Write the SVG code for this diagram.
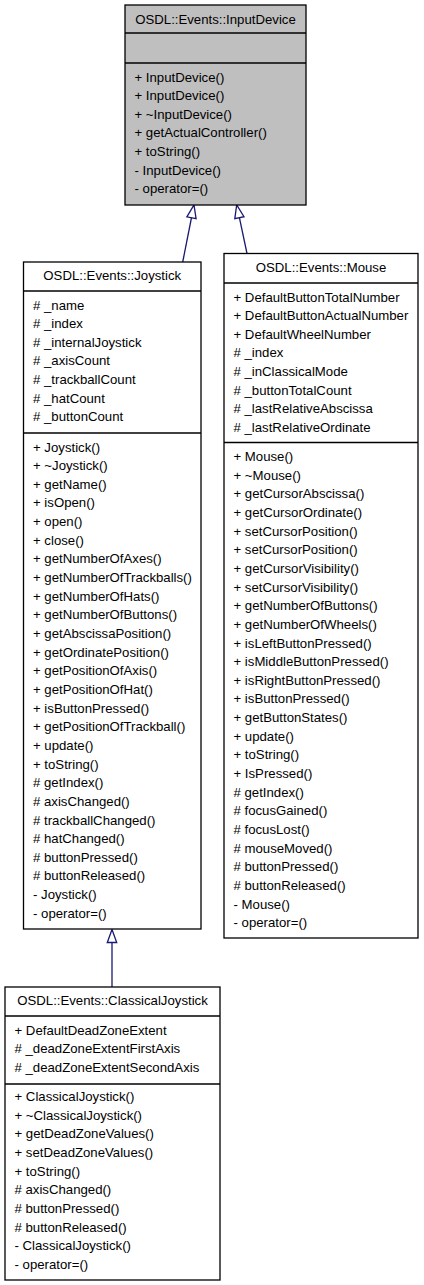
<svg xmlns="http://www.w3.org/2000/svg" width="424" height="1285" viewBox="0 0 424 1285">
<style>
  text { font-family: "Liberation Sans", Arial, Helvetica, sans-serif; font-size: 13.2px; fill: #000; }
  .t { text-anchor: middle; }
  .box { fill: #fff; stroke: #000; stroke-width: 1.3; }
  .gray { fill: #bfbfbf; }
  .div { stroke: #000; stroke-width: 1.3; }
  .edge { fill: none; stroke: #191970; stroke-width: 1.3; marker-end: url(#hollow); }
</style>
<defs>
  <marker id="hollow" markerUnits="userSpaceOnUse" viewBox="0 0 13 10" refX="0" refY="5" markerWidth="13" markerHeight="10" orient="auto" overflow="visible">
    <path d="M0,0.3 L13,5 L0,9.7 Z" fill="#fff" stroke="#191970" stroke-width="1.3"/>
  </marker>
</defs>
<rect width="424" height="1285" fill="#fff"/>

<g id="connectors">
  <path class="edge" d="M182.7,262 L191.47,217.75"/>
  <path class="edge" d="M247,253.5 L239.4,217.7"/>
  <path class="edge" d="M112,987 L112,942.5"/>
</g>

<g id="InputDevice">
  <rect class="box gray" x="125" y="5" width="181" height="200"/>
  <line class="div" x1="125" y1="33" x2="306" y2="33"/>
  <line class="div" x1="125" y1="63" x2="306" y2="63"/>
  <text class="t" x="215.5" y="23.5">OSDL::Events::InputDevice</text>
  <text x="134.5" y="81.5">+ InputDevice()</text>
  <text x="134.5" y="100.15">+ InputDevice()</text>
  <text x="134.5" y="118.8">+ ~InputDevice()</text>
  <text x="134.5" y="137.45">+ getActualController()</text>
  <text x="134.5" y="156.1">+ toString()</text>
  <text x="134.5" y="174.75">- InputDevice()</text>
  <text x="134.5" y="193.4">- operator=()</text>
</g>

<g id="Joystick">
  <rect class="box" x="23.5" y="262" width="177.5" height="667"/>
  <line class="div" x1="23.5" y1="291" x2="201" y2="291"/>
  <line class="div" x1="23.5" y1="433" x2="201" y2="433"/>
  <text class="t" x="112.25" y="280">OSDL::Events::Joystick</text>
  <text x="33" y="309.5"># _name</text>
  <text x="33" y="328.15"># _index</text>
  <text x="33" y="346.8"># _internalJoystick</text>
  <text x="33" y="365.45"># _axisCount</text>
  <text x="33" y="384.1"># _trackballCount</text>
  <text x="33" y="402.75"># _hatCount</text>
  <text x="33" y="421.4"># _buttonCount</text>
  <text x="33" y="451.5">+ Joystick()</text>
  <text x="33" y="470.15">+ ~Joystick()</text>
  <text x="33" y="488.8">+ getName()</text>
  <text x="33" y="507.45">+ isOpen()</text>
  <text x="33" y="526.1">+ open()</text>
  <text x="33" y="544.75">+ close()</text>
  <text x="33" y="563.4">+ getNumberOfAxes()</text>
  <text x="33" y="582.05">+ getNumberOfTrackballs()</text>
  <text x="33" y="600.7">+ getNumberOfHats()</text>
  <text x="33" y="619.35">+ getNumberOfButtons()</text>
  <text x="33" y="638">+ getAbscissaPosition()</text>
  <text x="33" y="656.65">+ getOrdinatePosition()</text>
  <text x="33" y="675.3">+ getPositionOfAxis()</text>
  <text x="33" y="693.95">+ getPositionOfHat()</text>
  <text x="33" y="712.6">+ isButtonPressed()</text>
  <text x="33" y="731.25">+ getPositionOfTrackball()</text>
  <text x="33" y="749.9">+ update()</text>
  <text x="33" y="768.55">+ toString()</text>
  <text x="33" y="787.2"># getIndex()</text>
  <text x="33" y="805.85"># axisChanged()</text>
  <text x="33" y="824.5"># trackballChanged()</text>
  <text x="33" y="843.15"># hatChanged()</text>
  <text x="33" y="861.8"># buttonPressed()</text>
  <text x="33" y="880.45"># buttonReleased()</text>
  <text x="33" y="899.1">- Joystick()</text>
  <text x="33" y="917.75">- operator=()</text>
</g>

<g id="Mouse">
  <rect class="box" x="224" y="253.5" width="194" height="684.5"/>
  <line class="div" x1="224" y1="283" x2="418" y2="283"/>
  <line class="div" x1="224" y1="442.5" x2="418" y2="442.5"/>
  <text class="t" x="321" y="272">OSDL::Events::Mouse</text>
  <text x="233.5" y="301.5">+ DefaultButtonTotalNumber</text>
  <text x="233.5" y="320.15">+ DefaultButtonActualNumber</text>
  <text x="233.5" y="338.8">+ DefaultWheelNumber</text>
  <text x="233.5" y="357.45"># _index</text>
  <text x="233.5" y="376.1"># _inClassicalMode</text>
  <text x="233.5" y="394.75"># _buttonTotalCount</text>
  <text x="233.5" y="413.4"># _lastRelativeAbscissa</text>
  <text x="233.5" y="432.05"># _lastRelativeOrdinate</text>
  <text x="233.5" y="461">+ Mouse()</text>
  <text x="233.5" y="479.65">+ ~Mouse()</text>
  <text x="233.5" y="498.3">+ getCursorAbscissa()</text>
  <text x="233.5" y="516.95">+ getCursorOrdinate()</text>
  <text x="233.5" y="535.6">+ setCursorPosition()</text>
  <text x="233.5" y="554.25">+ setCursorPosition()</text>
  <text x="233.5" y="572.9">+ getCursorVisibility()</text>
  <text x="233.5" y="591.55">+ setCursorVisibility()</text>
  <text x="233.5" y="610.2">+ getNumberOfButtons()</text>
  <text x="233.5" y="628.85">+ getNumberOfWheels()</text>
  <text x="233.5" y="647.5">+ isLeftButtonPressed()</text>
  <text x="233.5" y="666.15">+ isMiddleButtonPressed()</text>
  <text x="233.5" y="684.8">+ isRightButtonPressed()</text>
  <text x="233.5" y="703.45">+ isButtonPressed()</text>
  <text x="233.5" y="722.1">+ getButtonStates()</text>
  <text x="233.5" y="740.75">+ update()</text>
  <text x="233.5" y="759.4">+ toString()</text>
  <text x="233.5" y="778.05">+ IsPressed()</text>
  <text x="233.5" y="796.7"># getIndex()</text>
  <text x="233.5" y="815.35"># focusGained()</text>
  <text x="233.5" y="834"># focusLost()</text>
  <text x="233.5" y="852.65"># mouseMoved()</text>
  <text x="233.5" y="871.3"># buttonPressed()</text>
  <text x="233.5" y="889.95"># buttonReleased()</text>
  <text x="233.5" y="908.6">- Mouse()</text>
  <text x="233.5" y="927.25">- operator=()</text>
</g>

<g id="ClassicalJoystick">
  <rect class="box" x="5" y="987" width="215" height="293"/>
  <line class="div" x1="5" y1="1016" x2="220" y2="1016"/>
  <line class="div" x1="5" y1="1084" x2="220" y2="1084"/>
  <text class="t" x="112.5" y="1005">OSDL::Events::ClassicalJoystick</text>
  <text x="14.5" y="1034.5">+ DefaultDeadZoneExtent</text>
  <text x="14.5" y="1053.15"># _deadZoneExtentFirstAxis</text>
  <text x="14.5" y="1071.8"># _deadZoneExtentSecondAxis</text>
  <text x="14.5" y="1101">+ ClassicalJoystick()</text>
  <text x="14.5" y="1119.65">+ ~ClassicalJoystick()</text>
  <text x="14.5" y="1138.3">+ getDeadZoneValues()</text>
  <text x="14.5" y="1156.95">+ setDeadZoneValues()</text>
  <text x="14.5" y="1175.6">+ toString()</text>
  <text x="14.5" y="1194.25"># axisChanged()</text>
  <text x="14.5" y="1212.9"># buttonPressed()</text>
  <text x="14.5" y="1231.55"># buttonReleased()</text>
  <text x="14.5" y="1250.2">- ClassicalJoystick()</text>
  <text x="14.5" y="1268.85">- operator=()</text>
</g>
</svg>
